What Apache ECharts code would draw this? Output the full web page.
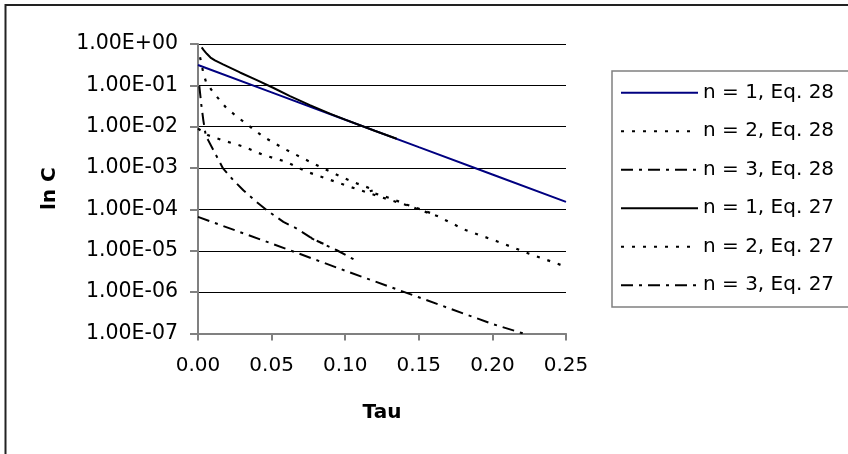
<!DOCTYPE html>
<html>
<head>
<meta charset="utf-8">
<script src="https://cdn.jsdelivr.net/npm/echarts@6/dist/echarts.min.js"></script>
<style>
  html, body { margin: 0; padding: 0; background: #fff; }
  #chart { width: 848px; height: 454px; }
</style>
</head>
<body>
<div id="chart"></div>
<script>
// Tau axis ticks
const tauTicks = [0, 0.05, 0.10, 0.15, 0.20, 0.25];

// n = 1, Eq. 28
const tauN1Eq28 = [0, 0.05, 0.10, 0.15, 0.20, 0.25];
const cN1Eq28   = [0.31, 0.0675, 0.0147, 3.2e-3, 7.0e-4, 1.52e-4];

// n = 2, Eq. 28
const tauN2Eq28 = [0, 0.007, 0.016, 0.031, 0.044, 0.060, 0.073, 0.087, 0.102, 0.124, 0.142, 0.163, 0.181, 0.203, 0.225, 0.25];
const cN2Eq28   = [9.0e-3, 6.2e-3, 4.8e-3, 3.3e-3, 2.1e-3, 1.41e-3, 8.4e-4, 5.6e-4, 3.65e-4, 2.0e-4, 1.26e-4, 6.8e-5, 3.26e-5, 1.7e-5, 8.5e-6, 4.1e-6];

// n = 3, Eq. 28
const tauN3Eq28 = [0, 0.05, 0.10, 0.15, 0.20, 0.221];
const cN3Eq28   = [6.6e-5, 1.5e-5, 3.3e-6, 7.5e-7, 1.7e-7, 1.0e-7];

// n = 1, Eq. 27
const tauN1Eq27 = [0.0025, 0.004, 0.006, 0.0085, 0.0115, 0.017, 0.0285, 0.040, 0.051, 0.0625, 0.076, 0.090, 0.100, 0.120, 0.135];
const cN1Eq27   = [0.83, 0.70, 0.58, 0.47, 0.40, 0.32, 0.205, 0.134, 0.0875, 0.055, 0.0334, 0.0205, 0.0148, 0.0080, 0.0051];

// n = 2, Eq. 27
const tauN2Eq27 = [0.0014, 0.0035, 0.0054, 0.010, 0.0195, 0.0319, 0.0444, 0.058, 0.0715, 0.0851, 0.0999, 0.1078, 0.120, 0.116, 0.130, 0.142, 0.153, 0.163];
const cN2Eq27   = [0.48, 0.21, 0.122, 0.070, 0.0277, 0.0124, 5.7e-3, 3.0e-3, 1.71e-3, 9.8e-4, 5.6e-4, 4.27e-4, 2.95e-4, 2.7e-4, 1.9e-4, 1.3e-4, 9.5e-5, 7.0e-5];

// n = 3, Eq. 27
const tauN3Eq27 = [0.0009, 0.0023, 0.0036, 0.0054, 0.0068, 0.017, 0.024, 0.0308, 0.040, 0.0483, 0.058, 0.0671, 0.0761, 0.0800, 0.0770, 0.0852, 0.0830, 0.0943, 0.107];
const cN3Eq27   = [0.096, 0.033, 0.0145, 5.7e-3, 4.8e-3, 9.8e-4, 5.1e-4, 2.9e-4, 1.5e-4, 8.7e-5, 5.0e-5, 3.45e-5, 2.15e-5, 1.80e-5, 2.0e-5, 1.48e-5, 1.58e-5, 1.03e-5, 5.9e-6];

const seriesNames = [
  'n = 1, Eq. 28', 'n = 2, Eq. 28', 'n = 3, Eq. 28',
  'n = 1, Eq. 27', 'n = 2, Eq. 27', 'n = 3, Eq. 27'
];

const pairs = (xs, ys) => xs.map((x, i) => [x, ys[i]]);

const FONT = 'DejaVu Sans';
const dotted = [3, 8];
const dashDot = [12, 6, 3, 6];

function line(name, xs, ys, color, type, width) {
  return {
    name, type: 'line', data: pairs(xs, ys),
    symbol: 'none', showSymbol: false, smooth: false, animation: false,
    lineStyle: { color, type, width, cap: 'butt' },
    itemStyle: { color }
  };
}

function sciLabel(v) {
  const e = Math.round(Math.log10(v));
  const m = v / Math.pow(10, e);
  const a = Math.abs(e);
  return m.toFixed(2) + 'E' + (e < 0 ? '-' : '+') + (a < 10 ? '0' : '') + a;
}

const chart = echarts.init(document.getElementById('chart'), null, { renderer: 'canvas' });
chart.setOption({
  animation: false,
  backgroundColor: '#fff',
  textStyle: { fontFamily: FONT, color: '#000' },
  graphic: [{
    type: 'rect',
    shape: { x: 5.5, y: 5, width: 900, height: 500 },
    style: { fill: 'none', stroke: '#222', lineWidth: 2 },
    silent: true, z: 0
  }],
  grid: { left: 198, top: 44, width: 368, height: 289.5 },
  legend: {
    data: seriesNames,
    orient: 'vertical',
    left: 612, top: 71,
    padding: [11.7, 20, 11.8, 8],
    itemWidth: 77, itemHeight: 14,
    itemGap: 18.5,
    itemStyle: { opacity: 0 },
    borderColor: '#808080', borderWidth: 1.5,
    textStyle: { fontFamily: FONT, fontSize: 20, color: '#000', lineHeight: 20, padding: [0, 0, 0, 0] },
    selectedMode: false
  },
  xAxis: {
    type: 'value', min: 0, max: 0.25, interval: 0.05,
    name: 'Tau', nameLocation: 'middle', nameGap: 69,
    nameTextStyle: { fontFamily: FONT, fontSize: 20, fontWeight: 'bold', color: '#000' },
    axisLine: { show: true, lineStyle: { color: '#808080', width: 2 } },
    axisTick: { show: true, length: 7, lineStyle: { color: '#808080', width: 2 } },
    axisLabel: {
      fontFamily: FONT, fontSize: 20, color: '#000', margin: 22,
      formatter: v => tauTicks.includes(+v.toFixed(2)) ? v.toFixed(2) : ''
    },
    splitLine: { show: false }
  },
  yAxis: {
    type: 'log', logBase: 10, min: 1e-7, max: 1, splitNumber: 7,
    name: 'ln C', nameLocation: 'middle', nameGap: 138, nameRotate: 90,
    nameTextStyle: { fontFamily: FONT, fontSize: 20, fontWeight: 'bold', color: '#000' },
    axisLine: { show: true, lineStyle: { color: '#808080', width: 2 } },
    axisTick: { show: true, length: 8, lineStyle: { color: '#808080', width: 2 } },
    axisLabel: { fontFamily: FONT, fontSize: 20.5, color: '#000', margin: 20, formatter: sciLabel },
    splitLine: { show: true, lineStyle: { color: '#000', width: 1 } },
    minorTick: { show: false }, minorSplitLine: { show: false }
  },
  series: [
    line(seriesNames[0], tauN1Eq28, cN1Eq28, '#000080', 'solid', 2),
    line(seriesNames[1], tauN2Eq28, cN2Eq28, '#000', dotted, 2.2),
    line(seriesNames[2], tauN3Eq28, cN3Eq28, '#000', dashDot, 2),
    line(seriesNames[3], tauN1Eq27, cN1Eq27, '#000', 'solid', 2),
    line(seriesNames[4], tauN2Eq27, cN2Eq27, '#000', dotted, 2.2),
    line(seriesNames[5], tauN3Eq27, cN3Eq27, '#000', dashDot, 2)
  ]
});
</script>
</body>
</html>
